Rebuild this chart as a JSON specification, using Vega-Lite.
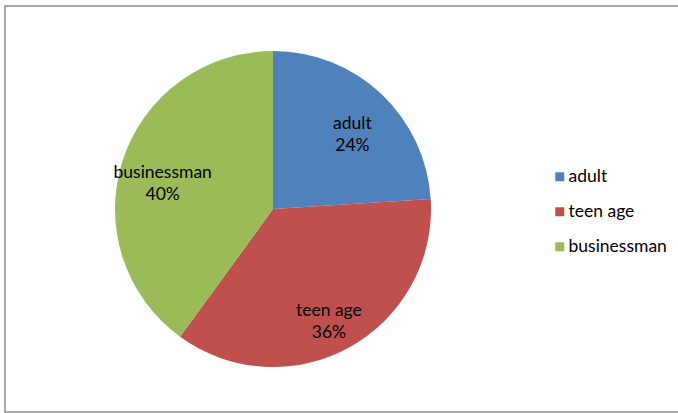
{
  "$schema": "https://vega.github.io/schema/vega-lite/v6.json",
  "width": 674,
  "height": 406,
  "autosize": {"type": "none"},
  "padding": {"left": 5, "top": 6, "right": 0, "bottom": 1},
  "background": "white",
  "config": {
    "view": {"stroke": "#8c8c8c", "strokeWidth": 1.5},
    "font": "Lato"
  },
  "data": {
    "values": [
      {"group": "adult", "share": 24, "label": "adult\n24%"},
      {"group": "teen age", "share": 36, "label": "teen age\n36%"},
      {"group": "businessman", "share": 40, "label": "businessman\n40%"}
    ]
  },
  "encoding": {
    "theta": {"field": "share", "type": "quantitative", "stack": true},
    "order": {"field": "share", "type": "quantitative", "sort": "ascending"},
    "x": {"datum": 268, "type": "quantitative", "scale": {"domain": [0, 674]}, "axis": null}
  },
  "layer": [
    {
      "mark": {"type": "arc", "outerRadius": 158, "stroke": null},
      "encoding": {
        "color": {
          "field": "group",
          "type": "nominal",
          "sort": ["adult", "teen age", "businessman"],
          "scale": {"domain": ["adult", "teen age", "businessman"], "range": ["#4F81BD", "#C0504D", "#9BBB59"]},
          "legend": {
            "title": null,
            "orient": "none",
            "legendX": 546,
            "legendY": 162,
            "padding": 0,
            "symbolType": "square",
            "symbolSize": 81,
            "symbolStrokeWidth": 0,
            "labelFontSize": 17.5,
            "labelColor": "#000000",
            "labelOffset": 0,
            "rowPadding": 16,
            "labelFont": "Lato"
          }
        }
      }
    },
    {
      "mark": {"type": "text", "radius": 116, "fontSize": 17.5, "color": "#000000", "lineBreak": "\n", "lineHeight": 22, "align": "center", "baseline": "middle", "font": "Lato"},
      "encoding": {
        "text": {"field": "label", "type": "nominal"}
      }
    }
  ]
}
